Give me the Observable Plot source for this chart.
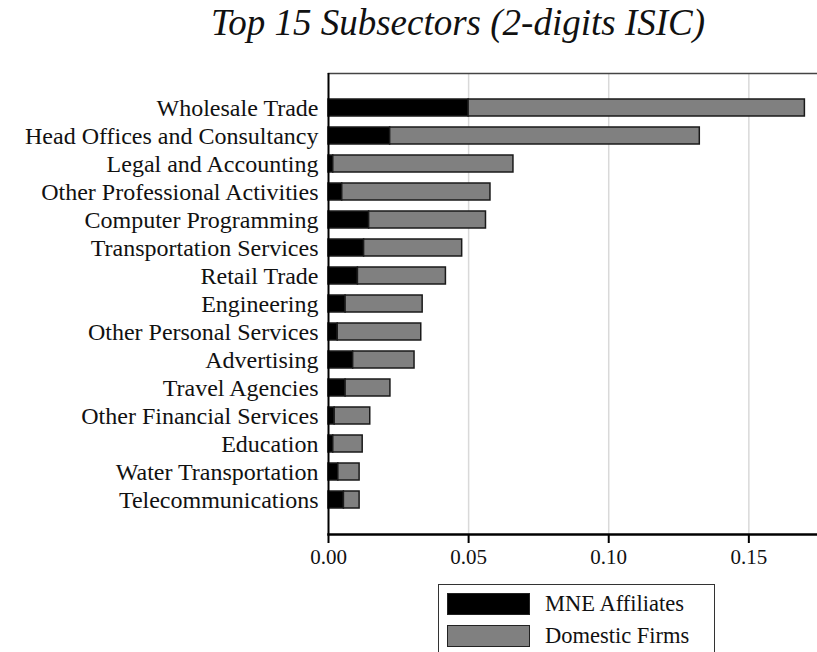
<!DOCTYPE html>
<html>
<head>
<meta charset="utf-8">
<script src="https://cdn.jsdelivr.net/npm/d3@7"></script>
<script src="https://cdn.jsdelivr.net/npm/@observablehq/plot@0.6"></script>
<style>
  html, body { margin: 0; padding: 0; background: #fff; }
  #wrap { position: relative; width: 817px; height: 652px; overflow: hidden; font-family: "Liberation Serif", serif; }
  #title { position: absolute; left: 0; top: 3px; width: 817px; padding-left: 211px; box-sizing: border-box; font-style: italic; font-size: 37px; line-height: 40px; color: #111; white-space: nowrap; }
  #chart { position: absolute; left: 0; top: 0; }
  #legend { position: absolute; left: 438px; top: 584px; width: 277px; height: 80px; border: 1.5px solid #333; box-sizing: border-box; }
  .item { position: absolute; left: 8px; display: flex; align-items: center; font-size: 22.5px; color: #111; }
  .sw { width: 83px; height: 22px; box-sizing: border-box; border: 1.5px solid #222; margin-right: 15px; }
</style>
</head>
<body>
<div id="wrap">
  <div id="title">Top 15 Subsectors (2-digits ISIC)</div>
  <div id="chart"></div>
  <div id="legend"></div>
</div>
<script>
const categories = [
  "Wholesale Trade",
  "Head Offices and Consultancy",
  "Legal and Accounting",
  "Other Professional Activities",
  "Computer Programming",
  "Transportation Services",
  "Retail Trade",
  "Engineering",
  "Other Personal Services",
  "Advertising",
  "Travel Agencies",
  "Other Financial Services",
  "Education",
  "Water Transportation",
  "Telecommunications"
];
const mneAffiliates = [0.0500, 0.0220, 0.0017, 0.0049, 0.0145, 0.0127, 0.0105, 0.0061, 0.0033, 0.0088, 0.0061, 0.0022, 0.0017, 0.0035, 0.0055];
const totals        = [0.1700, 0.1325, 0.0660, 0.0578, 0.0562, 0.0477, 0.0419, 0.0336, 0.0331, 0.0307, 0.0221, 0.0149, 0.0122, 0.0111, 0.0111];
const domesticFirms = totals.map((t, i) => +(t - mneAffiliates[i]).toFixed(4));
const seriesNames = ["MNE Affiliates", "Domestic Firms"];
const seriesColors = ["#000000", "#808080"];
const xTicks = [0, 0.05, 0.10, 0.15];

const rows = [];
categories.forEach((c, i) => {
  rows.push({category: c, series: seriesNames[0], value: mneAffiliates[i]});
  rows.push({category: c, series: seriesNames[1], value: domesticFirms[i]});
});

const chart = Plot.plot({
  width: 817,
  height: 580,
  marginTop: 73,
  marginLeft: 328,
  marginRight: 0,
  marginBottom: 46,
  style: {fontFamily: "Liberation Serif, serif", background: "transparent", color: "#111"},
  x: {domain: [0, 0.1745], ticks: xTicks, tickFormat: d3.format(".2f"), label: null},
  y: {domain: categories, paddingInner: 0.38, paddingOuter: 0.92, label: null},
  color: {domain: seriesNames, range: seriesColors},
  marks: [
    Plot.gridX(xTicks.filter(d => d > 0), {stroke: "#d9d9d9", strokeOpacity: 1, strokeWidth: 1.5}),
    Plot.barX(rows, Plot.stackX({x: "value", y: "category", fill: "series", order: seriesNames, stroke: "#1a1a1a", strokeWidth: 1.5})),
    Plot.frame({anchor: "top", stroke: "#444", strokeWidth: 1.5}),
    Plot.frame({anchor: "bottom", stroke: "#000", strokeWidth: 2.5}),
    Plot.ruleX([0], {stroke: "#000", strokeWidth: 2}),
    Plot.axisX({ticks: xTicks, tickFormat: d3.format(".2f"), tickSize: 9, tickPadding: 6, fontSize: 21, label: null, stroke: "#000", strokeWidth: 2}),
    Plot.axisY({tickSize: 0, tickPadding: 10, fontSize: 24, label: null})
  ]
});
document.getElementById("chart").appendChild(chart);

const legend = document.getElementById("legend");
seriesNames.forEach((name, i) => {
  const item = document.createElement("div");
  item.className = "item";
  item.style.top = (i === 0 ? 6 : 38) + "px";
  const sw = document.createElement("div");
  sw.className = "sw";
  sw.style.background = seriesColors[i];
  const label = document.createElement("span");
  label.textContent = name;
  item.appendChild(sw);
  item.appendChild(label);
  legend.appendChild(item);
});
</script>
</body>
</html>
